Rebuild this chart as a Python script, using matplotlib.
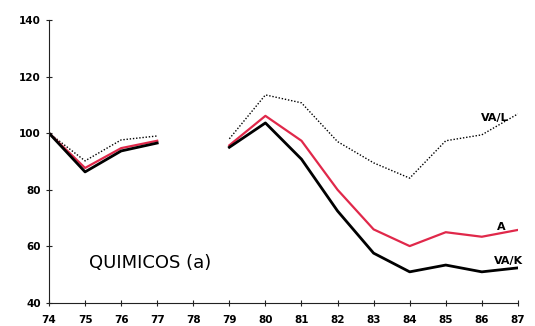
import numpy as np
import matplotlib
matplotlib.use("Agg")
import matplotlib.pyplot as plt

years = [74, 75, 76, 77, 78, 79, 80, 81, 82, 83, 84, 85, 86, 87]
va_l = [100, 90.2, 97.6, 99.0, np.nan, 98.0, 113.5, 110.7, 97.0, 89.5, 84.1, 97.3, 99.4, 106.8]
a = [100, 87.7, 94.7, 97.3, np.nan, 95.7, 106.1, 97.3, 80.0, 66.0, 60.1, 65.0, 63.4, 65.8]
va_k = [100, 86.3, 93.7, 96.5, np.nan, 95.0, 103.6, 90.8, 72.5, 57.6, 51.0, 53.4, 51.0, 52.4]
yticks = [40, 60, 80, 100, 120, 140]

fig = plt.figure(figsize=(5.35, 3.26), dpi=100)
ax = fig.add_axes([0.0916, 0.0706, 0.8764, 0.8684])

ax.plot(years, va_l, color="black", linestyle=(0, (1, 1.3)), linewidth=1.0)
ax.plot(years, a, color="#e0284a", linewidth=1.6)
ax.plot(years, va_k, color="black", linewidth=2.0)

ax.set_xlim(74, 87)
ax.set_ylim(40, 140)
ax.set_xticks(years)
ax.set_xticklabels([str(y) for y in years])
ax.set_yticks(yticks)
for s in ["top", "right"]:
    ax.spines[s].set_visible(False)
for s in ["left", "bottom"]:
    ax.spines[s].set_linewidth(0.8)
    ax.spines[s].set_color("#222222")
ax.tick_params(axis="both", direction="inout", length=5, width=0.8, colors="#222222",
               labelsize=7.5, labelcolor="black")
ax.tick_params(axis="x", pad=6)
for lab in ax.get_xticklabels() + ax.get_yticklabels():
    lab.set_fontweight("bold")

ax.text(86.35, 105.2, "VA/L", fontsize=8, fontweight="bold", ha="center", va="center")
ax.text(86.55, 66.8, "A", fontsize=8, fontweight="bold", ha="center", va="center")
ax.text(86.75, 55.0, "VA/K", fontsize=8, fontweight="bold", ha="center", va="center")
ax.text(75.1, 54.0, "QUIMICOS (a)", fontsize=13, ha="left", va="center")

fig.savefig("out.png", dpi=100, facecolor="white")
